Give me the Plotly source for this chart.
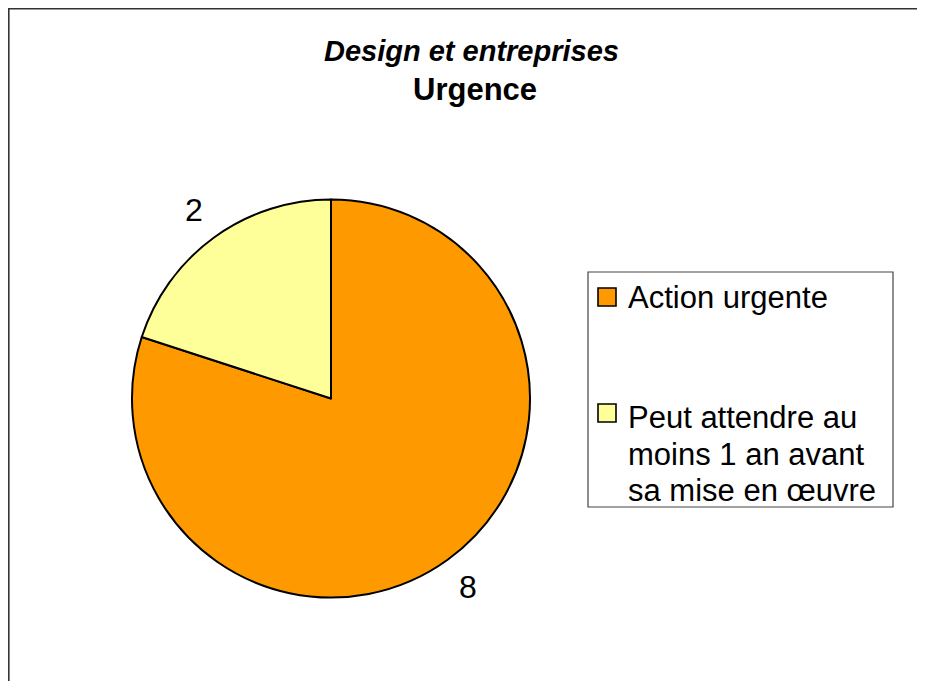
import math
import plotly.graph_objects as go

# ---- data ----
categories = ["Action urgente", "Peut attendre au moins 1 an avant sa mise en œuvre"]
values = [8, 2]
colors = ["#FF9900", "#FFFF99"]
legend_lines = [["Action urgente"], ["Peut attendre au", "moins 1 an avant", "sa mise en œuvre"]]
title_line1 = "Design et entreprises"
title_line2 = "Urgence"

# the page body adds an 8px margin; size the figure so it fits the window
OFF = 8
W, H = 909, 673
FONT = "Liberation Sans, Arial, sans-serif"

def px(x):
    return (x - OFF) / W

def py(y):
    return 1 - (y - OFF) / H

# pie geometry (window pixels)
cx, cy, r = 331, 398.5, 199

fig = go.Figure()
fig.add_trace(go.Pie(
    labels=categories,
    values=values,
    sort=False,
    direction="clockwise",
    rotation=0,
    marker=dict(colors=colors, line=dict(color="#000000", width=2)),
    textinfo="none",
    hoverinfo="label+value",
    showlegend=False,
    domain=dict(x=[px(cx - r), px(cx + r)], y=[py(cy + r), py(cy - r)]),
))

annotations = []
# value labels placed at the slice mid-angles, outside the pie
total = sum(values)
acc = 0
for v in values:
    mid = (acc + v / 2) / total * 2 * math.pi
    acc += v
    d = r * 1.17
    lx = cx + d * math.sin(mid)
    ly = cy - d * math.cos(mid)
    annotations.append(dict(x=px(lx), y=py(ly), xref="paper", yref="paper",
                            text=str(v), showarrow=False,
                            xanchor="center", yanchor="middle",
                            font=dict(family=FONT, size=32, color="#000")))

# title
annotations.append(dict(x=px(471.5), y=py(51), xref="paper", yref="paper",
                        text="<b><i>" + title_line1 + "</i></b>", showarrow=False,
                        xanchor="center", yanchor="middle",
                        font=dict(family=FONT, size=29, color="#000")))
annotations.append(dict(x=px(474.5), y=py(89), xref="paper", yref="paper",
                        text="<b>" + title_line2 + "</b>", showarrow=False,
                        xanchor="center", yanchor="middle",
                        font=dict(family=FONT, size=31, color="#000")))

shapes = []
# outer frame (left and top edges visible; right and bottom run past the window)
shapes.append(dict(type="line", xref="paper", yref="paper",
                   x0=px(8.5), x1=px(8.5), y0=0, y1=1,
                   line=dict(color="#333333", width=2.2), layer="above"))
shapes.append(dict(type="line", xref="paper", yref="paper",
                   x0=0, x1=1, y0=py(8.5), y1=py(8.5),
                   line=dict(color="#333333", width=2.2), layer="above"))
# legend box
shapes.append(dict(type="rect", xref="paper", yref="paper",
                   x0=px(588), x1=px(893), y0=py(507), y1=py(272),
                   line=dict(color="#444444", width=1.2), fillcolor="#FFFFFF", layer="below"))

swatch_tops = [288, 404]
line_tops = [[297], [418, 454, 490]]
for i, col in enumerate(colors):
    t = swatch_tops[i]
    shapes.append(dict(type="rect", xref="paper", yref="paper",
                       x0=px(598), x1=px(616), y0=py(t + 18), y1=py(t),
                       line=dict(color="#000000", width=1.6), fillcolor=col, layer="above"))
    for j, txt in enumerate(legend_lines[i]):
        annotations.append(dict(x=px(626), y=py(line_tops[i][j]), xref="paper", yref="paper",
                                text=txt, showarrow=False,
                                xanchor="left", yanchor="middle",
                                font=dict(family=FONT, size=31, color="#000")))

fig.update_layout(
    width=W, height=H,
    margin=dict(l=0, r=0, t=0, b=0),
    paper_bgcolor="#FFFFFF",
    plot_bgcolor="#FFFFFF",
    annotations=annotations,
    shapes=shapes,
    showlegend=False,
)

fig.write_html("out.html")
